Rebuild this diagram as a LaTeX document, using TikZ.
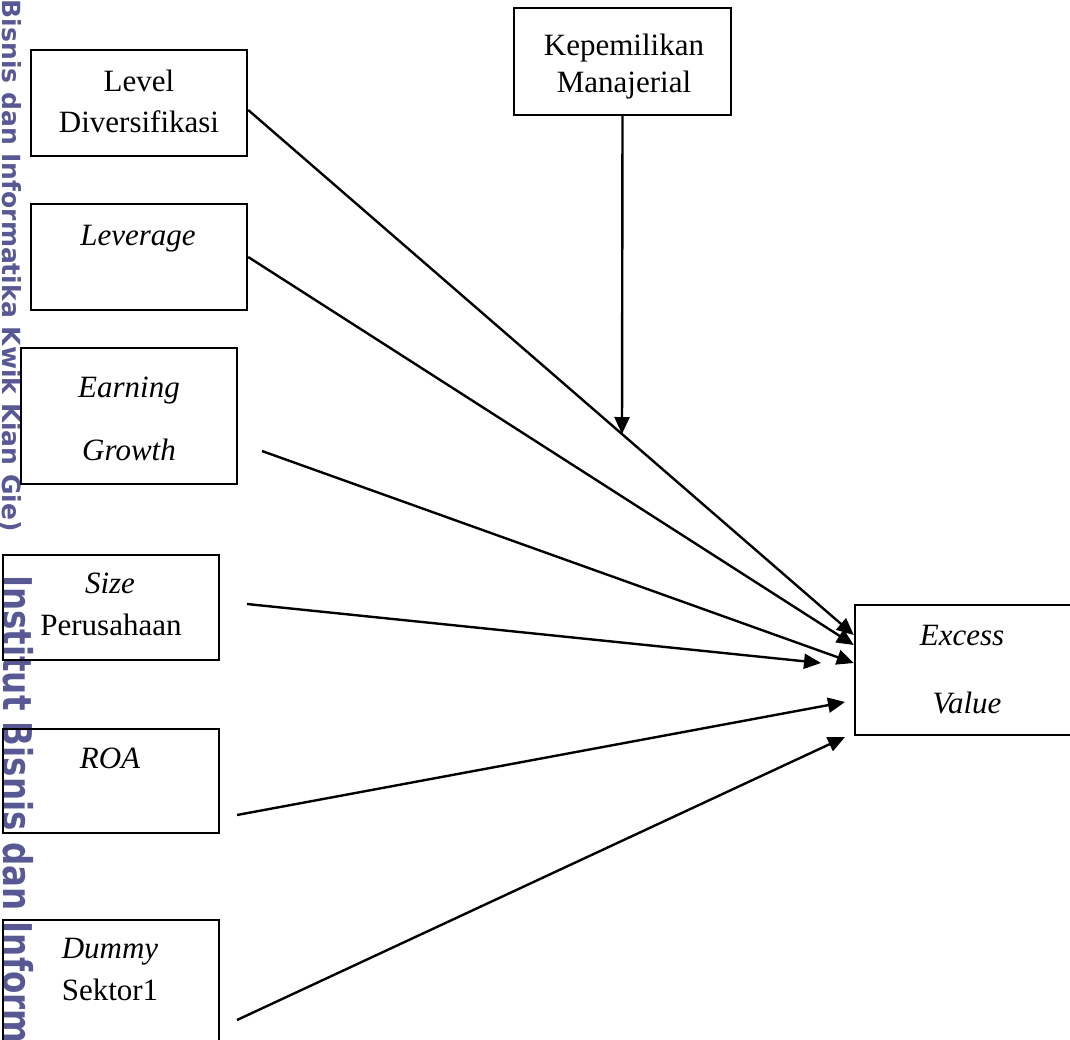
\documentclass[tikz,border=0pt]{standalone}
\usepackage{fontspec}
\setmainfont{Liberation Serif}
\newfontfamily\wmfont{DejaVu Sans}
\usetikzlibrary{arrows.meta}
\definecolor{wm}{RGB}{88,88,148}
\begin{document}
\begin{tikzpicture}[x=1pt,y=-1pt,
  box/.style={draw,line width=2.4pt,rectangle,inner sep=0pt},
  lbl/.style={font=\fontsize{31}{37}\selectfont,anchor=base,inner sep=0pt},
  ilbl/.style={font=\fontsize{31}{37}\selectfont\itshape,anchor=base,inner sep=0pt},
  conn/.style={line width=2.4pt,-{Triangle[length=17pt,width=15pt]}},
  wmark/.style={text=wm,rotate=-90,inner sep=0pt}
]
\useasboundingbox (0,0) rectangle (1070,1039);
\begin{scope}
\clip (0,0) rectangle (1070,1039);
% watermark
\node[wmark,anchor=east,font=\wmfont\bfseries\fontsize{25}{29}\selectfont] (wm1) at (10,532) {(Institut Bisnis dan Informatika Kwik Kian Gie)};
\node[wmark,anchor=west,font=\wmfont\bfseries\fontsize{32.5}{38}\selectfont] (wm2) at (18,575) {\scalebox{1}[1.22]{Institut Bisnis dan Informatika Kwik Kian Gie}};
% boxes
\node[box,minimum width=216pt,minimum height=106pt] (lev) at (139,103) {};
\node[box,minimum width=216pt,minimum height=106pt] (levg) at (139,257) {};
\node[box,minimum width=216pt,minimum height=136pt] (earn) at (129,416) {};
\node[box,minimum width=216pt,minimum height=105pt] (size) at (111,607.5) {};
\node[box,minimum width=216pt,minimum height=104pt] (roa) at (111,781) {};
\node[box,minimum width=216pt,minimum height=140pt] (dum) at (111,990) {};
\node[box,minimum width=217pt,minimum height=107pt] (kep) at (622.5,61.5) {};
\node[box,minimum width=230pt,minimum height=130pt] (ev) at (970,670) {};
% labels
\node[lbl] (t1) at (139,91) {Level};
\node[lbl] (t2) at (139,132) {Diversifikasi};
\node[ilbl] (t3) at (138,245) {Leverage};
\node[ilbl] (t4) at (129,397) {Earning};
\node[ilbl] (t5) at (129,460) {Growth};
\node[ilbl] (t6) at (110,593) {Size};
\node[lbl] (t7) at (111,635) {Perusahaan};
\node[ilbl] (t8) at (110,768) {ROA};
\node[ilbl] (t9) at (110,958) {Dummy};
\node[lbl] (t10) at (110,1000) {Sektor1};
\node[lbl] (t11) at (624,55) {Kepemilikan};
\node[lbl] (t12) at (624,92) {Manajerial};
\node[ilbl] (t13) at (962,645) {Excess};
\node[ilbl] (t14) at (967,713) {Value};
% connector ends
\coordinate (mj) at (622,434);
\coordinate (earnS) at (262,451);
\coordinate (sizeS) at (247,604);
\coordinate (sizeE) at (821,663);
\coordinate (roaS) at (237,815);
\coordinate (roaE) at (845,702);
\coordinate (dumS) at (237,1020);
\coordinate (dumE) at (845,737);
% connectors
\draw[conn] ([yshift=-7pt]lev.east) -- ([yshift=35pt]ev.west);
\draw[conn] (kep.south) -- (mj);
\draw[conn] (levg.east) -- ([yshift=25pt]ev.west);
\draw[conn] (earnS) -- ([yshift=7pt]ev.west);
\draw[conn] (sizeS) -- (sizeE);
\draw[conn] (roaS) -- (roaE);
\draw[conn] (dumS) -- (dumE);
\end{scope}
\end{tikzpicture}
\end{document}
